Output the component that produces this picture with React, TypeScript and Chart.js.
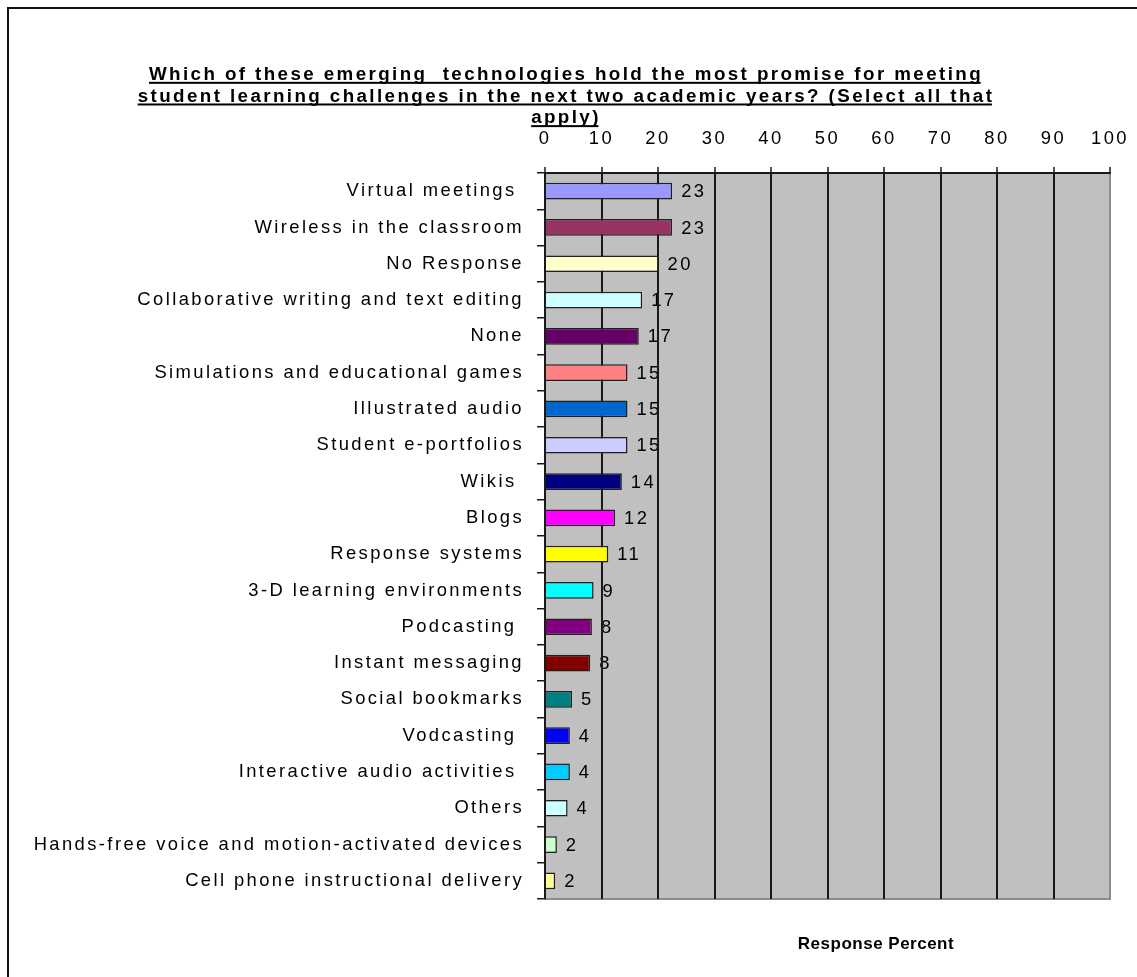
import React, { useEffect, useRef } from 'react';
import { Chart, registerables } from 'chart.js';

Chart.register(...registerables);

const FONT = '"Liberation Sans", Arial, sans-serif';

const titleLines = [
  'Which of these emerging  technologies hold the most promise for meeting',
  'student learning challenges in the next two academic years? (Select all that',
  'apply)',
];

const axisTitle = 'Response Percent';

const categories = [
  'Virtual meetings ',
  'Wireless in the classroom',
  'No Response',
  'Collaborative writing and text editing',
  'None',
  'Simulations and educational games',
  'Illustrated audio',
  'Student e-portfolios',
  'Wikis ',
  'Blogs',
  'Response systems',
  '3-D learning environments',
  'Podcasting ',
  'Instant messaging',
  'Social bookmarks',
  'Vodcasting ',
  'Interactive audio activities ',
  'Others',
  'Hands-free voice and motion-activated devices',
  'Cell phone instructional delivery',
];

const responsePercent = [
  22.5, 22.5, 20.1, 17.2, 16.6, 14.6, 14.6, 14.6, 13.6, 12.4,
  11.2, 8.6, 8.3, 8.0, 4.8, 4.4, 4.4, 4.0, 2.1, 1.8,
];

const barColors = [
  '#9999FF', '#993366', '#FFFFCC', '#CCFFFF', '#660066',
  '#FF8080', '#0066CC', '#CCCCFF', '#000080', '#FF00FF',
  '#FFFF00', '#00FFFF', '#800080', '#800000', '#008080',
  '#0000FF', '#00CCFF', '#CCFFFF', '#CCFFCC', '#FFFF99',
];

const xMin = 0;
const xMax = 100;
const xStep = 10;

const W = 1137;
const H = 977;
const TITLE_SIZE = 18.8;
const LABEL_SIZE = 18.4;
const TITLE_LH = 21.65;
const TITLE_PAD_TOP = 64;
const PLOT_TOP = 173;
const PLOT_LEFT = 545;
const PAD_LEFT = 22;
const PAD_RIGHT = 27;
const PAD_BOTTOM = 78;
const SPACING_PX = 2.4;
const SPACING = `${SPACING_PX}px`;

export default function App() {
  const canvasRef = useRef<HTMLCanvasElement | null>(null);

  useEffect(() => {
    const canvas = canvasRef.current;
    if (!canvas) return;

    const titleHeight = TITLE_PAD_TOP + TITLE_LH * titleLines.length;

    const decor = {
      id: 'decor',
      beforeDraw(chart: any) {
        const ctx = chart.ctx as any;
        const a = chart.chartArea;
        ctx.letterSpacing = SPACING;
        ctx.save();
        ctx.fillStyle = '#C0C0C0';
        ctx.fillRect(a.left, a.top, a.right - a.left, a.bottom - a.top);
        ctx.fillStyle = '#8c8c8c';
        ctx.fillRect(a.left, a.bottom - 1, a.right - a.left + 1, 2);
        const meta = chart.getDatasetMeta(0);
        ctx.font = `${LABEL_SIZE}px ${FONT}`;
        ctx.textBaseline = 'middle';
        ctx.textAlign = 'left';
        ctx.fillStyle = '#000';
        meta.data.forEach((el: any, i: number) => {
          ctx.fillText(String(Math.round(responsePercent[i])), el.x + 9, el.y + 1);
        });
        ctx.restore();
      },
      afterDraw(chart: any) {
        const ctx = chart.ctx as any;
        const tb = chart.titleBlock;
        const a = chart.chartArea;
        ctx.save();
        ctx.letterSpacing = SPACING;
        ctx.font = `bold ${TITLE_SIZE}px ${FONT}`;
        ctx.fillStyle = '#000';
        const cx = (tb.left + tb.right) / 2;
        titleLines.forEach((line, i) => {
          const w = ctx.measureText(line).width;
          const ym = tb.top + TITLE_PAD_TOP + TITLE_LH * (i + 0.5);
          ctx.fillRect(cx - w / 2, ym + 7, w - SPACING_PX, 2);
        });
        ctx.letterSpacing = '0.5px';
        ctx.font = `bold 17px ${FONT}`;
        ctx.textAlign = 'center';
        ctx.textBaseline = 'middle';
        ctx.fillText(axisTitle, a.left + 331, a.bottom + 45);
        ctx.restore();
      },
    };

    const chart = new Chart(canvas, {
      type: 'bar',
      data: {
        labels: categories,
        datasets: [
          {
            data: responsePercent,
            backgroundColor: barColors,
            borderColor: '#1f1f1f',
            borderWidth: 1.5,
            barPercentage: 0.46,
            categoryPercentage: 1,
          },
        ],
      },
      options: {
        indexAxis: 'y',
        responsive: false,
        animation: false,
        devicePixelRatio: 1,
        events: [],
        layout: {
          padding: { top: 0, left: PAD_LEFT, right: PAD_RIGHT, bottom: PAD_BOTTOM },
        },
        scales: {
          x: {
            position: 'top',
            min: xMin,
            max: xMax,
            afterFit(scale: any) {
              scale.height = PLOT_TOP - titleHeight;
              scale.paddingLeft = 0;
              scale.paddingRight = 0;
            },
            ticks: {
              stepSize: xStep,
              font: { family: FONT, size: LABEL_SIZE },
              color: '#000',
              padding: 17,
            },
            grid: {
              color: (c: any) => (c.tick && c.tick.value === xMax ? '#8c8c8c' : '#1a1a1a'),
              lineWidth: 2,
              drawTicks: true,
              tickLength: 6,
              tickColor: '#1a1a1a',
              tickWidth: 1.5,
            },
            border: { display: true, color: '#1a1a1a', width: 2 },
          },
          y: {
            afterFit(scale: any) {
              scale.width = PLOT_LEFT - PAD_LEFT;
              scale.paddingTop = 0;
              scale.paddingBottom = 0;
            },
            ticks: {
              autoSkip: false,
              font: { family: FONT, size: LABEL_SIZE },
              color: '#000',
              padding: 13,
            },
            grid: {
              drawOnChartArea: false,
              drawTicks: true,
              tickLength: 8,
              offset: true,
              color: '#1a1a1a',
              lineWidth: 1.5,
            },
            border: { display: true, color: '#1a1a1a', width: 2 },
          },
        },
        plugins: {
          legend: { display: false },
          tooltip: { enabled: false },
          title: {
            display: true,
            text: titleLines,
            color: '#000',
            font: { family: FONT, size: TITLE_SIZE, weight: 'bold', lineHeight: TITLE_LH / TITLE_SIZE },
            padding: { top: TITLE_PAD_TOP, bottom: 0 },
          },
        },
      },
      plugins: [decor],
    } as any);

    return () => chart.destroy();
  }, []);

  return (
    <div style={{ position: 'fixed', left: 0, top: 0, width: W, height: H, overflow: 'hidden', background: '#fff' }}>
      <div
        style={{
          position: 'absolute',
          left: 7,
          top: 7,
          width: 1200,
          height: 1100,
          borderLeft: '2px solid #111',
          borderTop: '2px solid #111',
        }}
      />
      <canvas
        ref={canvasRef}
        width={W}
        height={H}
        style={{ position: 'absolute', left: 0, top: 0, width: W, height: H }}
      />
    </div>
  );
}
